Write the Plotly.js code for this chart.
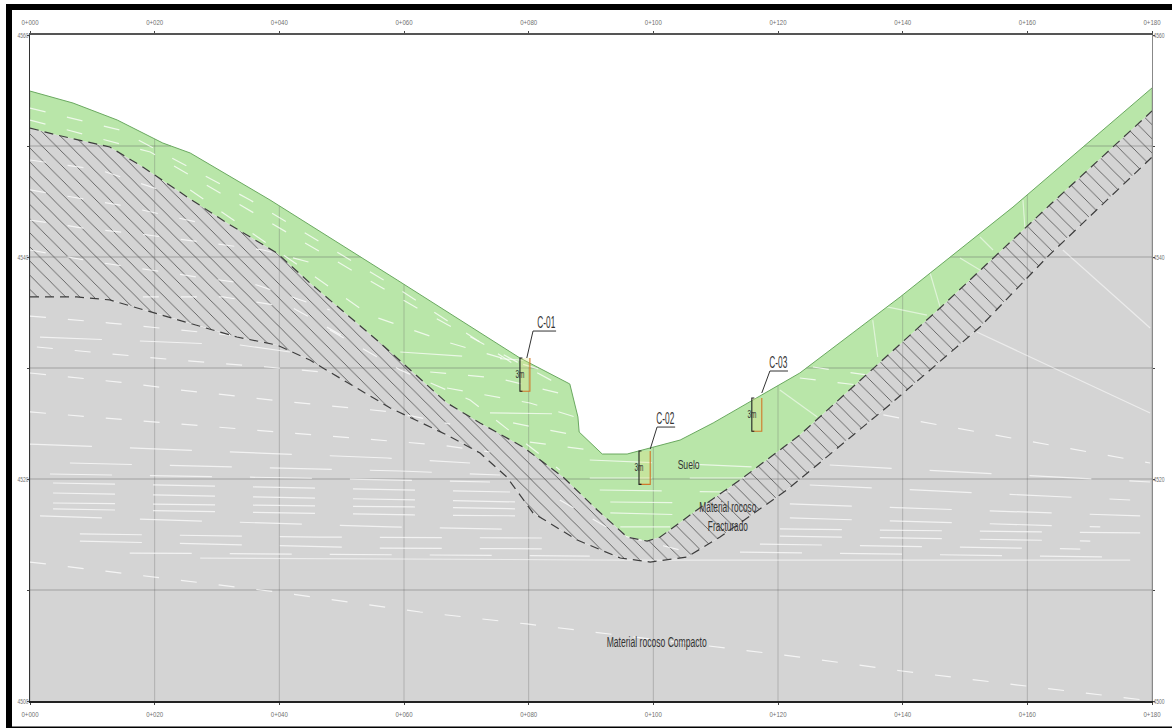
<!DOCTYPE html>
<html><head><meta charset="utf-8">
<script src="https://cdn.plot.ly/plotly-3.0.1.min.js"></script>
<style>html,body{margin:0;padding:0;background:#fff;overflow:hidden}#g{width:1172px;height:728px}</style>
</head><body><div id="g"></div>
<script>
// Stations (m) and elevations (m)
const stationTicks = [0,20,40,60,80,100,120,140,160,180];
const stationLabels = ["0+000","0+020","0+040","0+060","0+080","0+100","0+120","0+140","0+160","0+180"];
const elevationGrid = [4510,4520,4530,4540,4550];
const elevationTicks = [4500,4510,4520,4530,4540,4550,4560];
const elevationLabels = ["4500","","4520","","4540","","4560"];

const groundX = [0,6.9,14,21.3,25.7,38.5,58.9,78.6,86.6,87.9,88.1,91.8,95.8,99.5,104.3,109.6,117.4,123.5,139.6,157.7,180];
const groundY = [4554.95,4553.87,4552.34,4550.27,4549.37,4545.14,4537.93,4530.9,4528.56,4525.59,4524.23,4522.25,4522.25,4522.79,4523.51,4525.05,4527.57,4529.55,4536.4,4544.5,4555.23];
const soilX = [0,4.3,12.8,18.1,25.2,31.6,39.6,44.9,56.2,66.9,72.2,79.1,85.5,91,95.8,99,101.1,107,113.9,123.5,146,163.6,180];
const soilY = [4551.62,4550.99,4549.91,4548.11,4545.41,4543.06,4540.36,4537.66,4532.25,4526.85,4525.05,4522.88,4520.18,4517.21,4514.77,4514.41,4514.77,4517.21,4519.91,4523.96,4535.41,4544.68,4553.15];
const rockX = [0,7.5,12.8,19.3,26.8,33.2,39.6,44.9,47,57.8,66.9,72.2,76.5,80.7,87.8,94.7,99.5,105.4,110.7,121.4,137.5,152.4,163.2,180];
const rockY = [4536.4,4536.4,4536.13,4535.05,4533.87,4532.79,4532.07,4530.72,4530,4526.4,4523.96,4522.34,4520.18,4516.94,4514.5,4512.88,4512.52,4512.97,4514.77,4519,4526.49,4533.69,4540,4549];

// White broken strata traces, each one [stations],[elevations above 4500]
const strataShort = [
 [[0,19.7,39.6,62.6,79.7,123.5,139.9,159.8,180],[12.52,11.17,9.82,8.02,6.94,3.96,2.7,1.35,0]],
 [[0,12.8,24.1,32.1],[34.68,34.05,33.42,32.97]],
 [[1.1,23.6,38,47],[31.89,30.72,30.09,29.64]],
 [[0,15.6,24.1,41.7,58.2,67.4],[29.55,28.65,28.02,26.94,26.04,24.95]],
 [[136.9,179.7],[25.77,21.44]],
 [[0,40.1,65.8,73.8],[26.04,24.23,23.06,22.43]],
 [[0,14.4,35.3,59.4,78.6],[53.42,51.44,45.14,37.03,30]],
 [[0,19.3,43.3,62.6,85],[52.34,49.46,41.53,35.23,28.47]],
 [[25.7,54.5,66.9,86.6],[46.04,34.77,32.34,29.1]],
 [[64.2,74.9,87.4],[29.64,29.1,27.39]],
 [[66.9,80.2,89],[28.2,26.85,25.32]],
 [[77.5,85.5,91.4],[25.05,24.14,23.51]],
 [[80.2,93.5],[23.33,22.34]],
 [[123.5,132.7],[29.1,28.47]],
 [[125.6,134.3],[30.09,29.37]],
 [[0,8.5,17.6,28.9,37.4,46.5],[43.33,42.61,42.07,41.26,40.63,39.28]],
 [[0,9.6,19.3,26.8,36.4,48.1],[40.63,39.64,38.83,38.2,37.48,35.23]],
 [[18.1,31,42.2,51.3],[36.4,36.4,35.41,32.52]],
 [[0,14.4,28.9],[46.04,44.68,42.88]],
 [[0,11.2,20.9],[48.74,47.84,46.04]],
 [[48.1,59.4,70.6,85],[33.42,29.82,27.12,20.81]],
 [[85,94.7,104.3],[18.11,14.95,13.6]]
];
const strataLong = [
 [[1.6,33.7,41.7],[32.79,32.07,31.44]],
 [[0,57.3,70.6],[23.15,21.89,21.44]],
 [[6.4,59.4,75.4],[21.44,20.72,20.36]],
 [[3.2,43.3,73.8],[20.45,20.09,19.73]],
 [[3.7,62.6,77],[19.64,19.01,18.83]],
 [[3.7,61.4,78.6],[18.74,18.11,17.93]],
 [[3.7,61.4,79.4],[17.84,17.48,17.3]],
 [[3.7,61.4,81],[17.3,16.76,16.67]],
 [[1.6,57.8,81.8],[16.67,15.68,15.41]],
 [[8,46.5,83.4],[15.05,14.77,14.68]],
 [[8,56.2,86.6],[14.41,13.78,13.69]],
 [[16,62.6,89.8],[13.33,13.15,13.06]],
 [[128.3,168.5,179.7],[21.26,20.09,19.73]],
 [[125.1,176.5],[19.46,18.11]],
 [[121.9,178.1],[17.75,16.67]],
 [[121.9,171.7],[16.49,15.68]],
 [[120.3,178.1],[15.5,15.14]],
 [[120.3,170.1],[14.86,14.41]],
 [[117.1,168.5],[14.14,13.69]],
 [[113.9,173.3],[13.42,12.97]],
 [[59.4,78.6,86.6],[31.44,30.72,30.54]],
 [[73.8,86.6],[25.95,25.86]],
 [[89.8,120.3],[21.71,20.99]],
 [[89.8,114.7],[20.09,20.09]],
 [[91.4,112.3],[19.01,18.83]],
 [[93.1,107.5],[17.93,17.84]],
 [[93.1,105.9],[16.94,16.76]],
 [[94.7,102.7],[15.68,15.68]]
];
const strataSolid = [
 [[27.3,94.7,176.5],[12.88,12.7,12.7]],
 [[151.9,163.2,179.7],[33.24,30.27,25.95]],
 [[165.7,179.7],[40.63,33.6]],
 [[120.3,126.3],[28.02,25.59]],
 [[135.2,136],[34.32,30.99]],
 [[137.5,143.9],[35.5,34.77]],
 [[144.4,146],[38.56,35.5]],
 [[149.2,152.4],[39.91,38.83]],
 [[152.4,154.5],[41.8,40.63]],
 [[159.3,159.6],[45.14,42.7]]
];

// Test pits
const pitNames = ["C-01","C-02","C-03"];
const pitLeft = [78.6,97.7,115.8];
const pitRight = [80.2,99.5,117.4];
const pitTop = [4530.9,4522.52,4527.3];
const pitDepth = 3;
const leaderX = [[79.7,80.7,84.4],[99.5,100.6,103.5],[117.4,118.7,121.6]];
const leaderY = [[4530.9,4533.33,4533.33],[4522.7,4524.68,4524.68],[4527.75,4529.73,4529.73]];

// Region labels
const regionText = ["Suelo","Material rocoso","Fracturado","Material rocoso Compacto"];
const regionX = [105.7,112,112,100.6];
const regionY = [4521.35,4517.48,4515.77,4505.3];
const regionWidth = [22,57,40,100];

const FONT = '"Liberation Sans",Arial,sans-serif';
const traces = [];
const poly = (xa,ya,xb,yb) => ({x:xa.concat(xb.slice().reverse()),y:ya.concat(yb.slice().reverse())});
const base = {mode:'lines',hoverinfo:'skip',showlegend:false};

// Layers
const grey = poly(rockX,rockY,[0,180],[4500,4500]);
traces.push({...base,...grey,fill:'toself',fillcolor:'#d4d4d4',line:{width:0}});
const hatch = poly(soilX,soilY,rockX,rockY);
traces.push({...base,...hatch,fill:'toself',fillcolor:'#d4d4d4',line:{width:0},
  fillpattern:{shape:'\\',size:10,solidity:0.09,fgcolor:'#5a5a5a',bgcolor:'#d4d4d4'}});
const green = poly(groundX,groundY,soilX,soilY);
traces.push({...base,...green,fill:'toself',fillcolor:'#b9e6a9',line:{width:0}});

// Grid is only visible below the ground surface
function groundAt(s){for(let i=1;i<groundX.length;i++){if(s<=groundX[i]){const t=(s-groundX[i-1])/(groundX[i]-groundX[i-1]);return groundY[i-1]+t*(groundY[i]-groundY[i-1]);}}return groundY[groundY.length-1];}
const vx=[],vy=[],hx=[],hy=[];
stationTicks.forEach(s=>{vx.push(s,s,null);vy.push(4500,groundAt(s),null);});
elevationGrid.forEach(e=>{
  let cur=groundY[0]>=e?0:null;
  for(let i=1;i<groundX.length;i++){
    const a=groundY[i-1],b=groundY[i];
    if((a-e)*(b-e)<0){const c=groundX[i-1]+(e-a)/(b-a)*(groundX[i]-groundX[i-1]);
      if(cur===null){cur=c;}else{hx.push(cur,c,null);hy.push(e,e,null);cur=null;}}
  }
  if(cur!==null){hx.push(cur,180,null);hy.push(e,e,null);}
});
traces.push({...base,x:vx,y:vy,line:{color:'rgba(100,100,100,0.32)',width:1}});
traces.push({...base,x:hx,y:hy,line:{color:'rgba(85,85,85,0.42)',width:1}});

// White strata
const addStrata=(list,line,opacity)=>list.forEach(p=>traces.push({...base,x:p[0],y:p[1].map(v=>v+4500),line,opacity}));
addStrata(strataLong,{color:'#fff',width:1.2,dash:'62px,38px'},0.7);
addStrata(strataShort,{color:'#fff',width:1.2,dash:'16px,22px'},0.75);
addStrata(strataSolid,{color:'#fff',width:1.2},0.55);

// Contact lines and ground
traces.push({...base,x:soilX,y:soilY,line:{color:'#3d3d3d',width:1.2,dash:'9px,6px'}});
traces.push({...base,x:rockX,y:rockY,line:{color:'#3d3d3d',width:1.2,dash:'9px,6px'}});
traces.push({...base,x:groundX,y:groundY,line:{color:'#6aa960',width:1}});

// Pits
pitNames.forEach((n,i)=>{
  const bottom=pitTop[i]-pitDepth;
  traces.push({...base,x:[pitLeft[i],pitRight[i],pitRight[i],pitLeft[i]],y:[pitTop[i],pitTop[i],bottom,bottom],fill:'toself',fillcolor:'rgba(225,225,130,0.3)',line:{width:0}});
  traces.push({...base,x:[pitRight[i],pitRight[i],pitLeft[i]],y:[pitTop[i],bottom,bottom],line:{color:'#d0782a',width:1.1}});
  traces.push({...base,x:[pitLeft[i]+0.4,pitLeft[i],pitLeft[i],pitLeft[i]+0.4],y:[pitTop[i],pitTop[i],bottom,bottom],line:{color:'#222',width:1.1}});
  traces.push({...base,x:leaderX[i],y:leaderY[i],line:{color:'#333',width:1}});
});

// Helper trace that makes the top and right axes draw
traces.push({...base,x:stationTicks,y:stationTicks.map(()=>4530),xaxis:'x2',yaxis:'y2',line:{width:0},opacity:0});

const annotations=[], widths=[];
regionText.forEach((t,i)=>{annotations.push({x:regionX[i],y:regionY[i],text:t,showarrow:false,font:{family:FONT,size:i===0?13:14,color:'#333'}});widths.push(regionWidth[i]);});
pitNames.forEach((n,i)=>{
  annotations.push({x:leaderX[i][2]-1.6,y:leaderY[i][2],yshift:9,text:n,showarrow:false,font:{family:FONT,size:16,color:'#333'}});widths.push(18);
  annotations.push({x:pitLeft[i],y:pitTop[i]-pitDepth/2,text:'3m',showarrow:false,font:{family:FONT,size:10,color:'#333'}});widths.push(9);
});

// Frame, given in page pixels
const pxX=p=>(p-30)/1122, pxY=p=>(701-p)/666;
const bar=(x0,y0,x1,y1)=>({type:'rect',xref:'paper',yref:'paper',x0:pxX(x0),x1:pxX(x1),y0:pxY(y0),y1:pxY(y1),fillcolor:'#000',line:{width:0},layer:'above'});
const shapes=[bar(6,4,1172,10),bar(6,4,12,728),bar(6,726.5,1172,728)];

const tickFont={family:FONT,size:8,color:'#707070'};
const xCommon={range:[0,180],tickmode:'array',tickvals:stationTicks,ticktext:stationLabels,showgrid:false,zeroline:false,ticks:'outside',ticklen:2,tickcolor:'#444',tickfont:tickFont,showline:true,ticklabelstandoff:3};
const yCommon={range:[4500,4560],tickmode:'array',tickvals:elevationTicks,ticktext:elevationLabels,showgrid:false,zeroline:false,ticks:'outside',ticklen:2,tickcolor:'#444',tickfont:tickFont,showline:true,ticklabelstandoff:-3};

Plotly.newPlot('g',traces,{
  width:1172,height:728,autosize:false,showlegend:false,
  margin:{l:30,r:20,t:35,b:27,pad:0},
  paper_bgcolor:'#fff',plot_bgcolor:'#fff',
  xaxis:{...xCommon,side:'bottom',linecolor:'#222',linewidth:1.5,layer:'above traces'},
  yaxis:{...yCommon,side:'left',linecolor:'#333',linewidth:1,layer:'above traces'},
  xaxis2:{...xCommon,side:'top',overlaying:'x',linecolor:'#555',linewidth:2,layer:'above traces'},
  yaxis2:{...yCommon,side:'right',overlaying:'y',linecolor:'#888',linewidth:1,layer:'above traces'},
  annotations,shapes
},{displayModeBar:false,staticPlot:true}).then(()=>{
  // The reference lettering is condensed: squeeze real text to its measured width
  document.querySelectorAll('.annotation-text').forEach((el,i)=>{
    el.setAttribute('textLength',widths[i]);el.setAttribute('lengthAdjust','spacingAndGlyphs');
  });
  document.querySelectorAll('.xtick text, .x2tick text').forEach(el=>{
    el.setAttribute('textLength',17);el.setAttribute('lengthAdjust','spacingAndGlyphs');
  });
  document.querySelectorAll('.ytick text, .y2tick text').forEach(el=>{
    if(el.textContent){el.setAttribute('textLength',11);el.setAttribute('lengthAdjust','spacingAndGlyphs');}
  });
});
</script></body></html>
